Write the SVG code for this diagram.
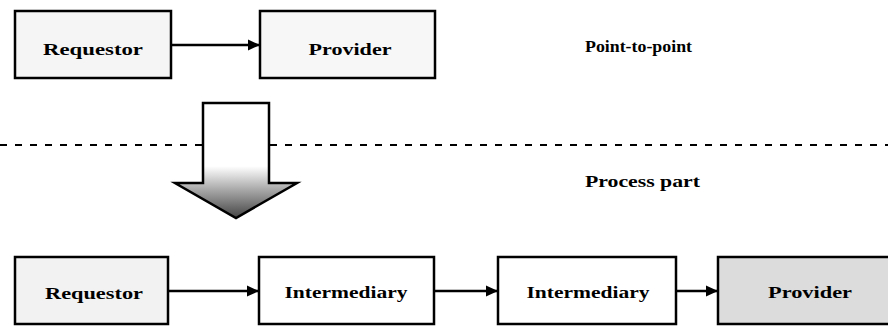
<svg xmlns="http://www.w3.org/2000/svg" width="888" height="326" viewBox="0 0 888 326">
<style>
.box{stroke:#000;stroke-width:2.5}
.lbl{font-family:"Liberation Serif",serif;font-weight:bold;font-size:17px;fill:#000;text-anchor:middle}
.note{font-family:"Liberation Serif",serif;font-weight:bold;font-size:16px;fill:#000}
.conn{stroke:#000;stroke-width:2.5;fill:none;marker-end:url(#ah)}
</style>
<defs>
<marker id="ah" markerWidth="12" markerHeight="12" refX="11" refY="6" orient="auto" markerUnits="userSpaceOnUse">
<path d="M0,0.5 L12,6 L0,11.5 z" fill="#000"/>
</marker>
<linearGradient id="shade" x1="0" y1="0" x2="0" y2="1">
<stop offset="0" stop-color="#fff"/>
<stop offset="0.55" stop-color="#fff"/>
<stop offset="0.75" stop-color="#aaa"/>
<stop offset="1" stop-color="#444"/>
</linearGradient>
</defs>
<rect width="888" height="326" fill="#fff"/>
<line x1="0" y1="145" x2="888" y2="145" stroke="#000" stroke-width="2" stroke-dasharray="7,8"/>
<g id="big-arrow">
<polygon points="203,103 269,103 269,183 297,183 236,218 175,183 203,183" fill="url(#shade)" stroke="#000" stroke-width="2.5"/>
</g>
<g id="requestor-top">
<rect class="box" x="15" y="11" width="156" height="67" fill="#f5f5f5"/>
<text class="lbl" x="93" y="55" textLength="100" lengthAdjust="spacingAndGlyphs">Requestor</text>
</g>
<g id="provider-top">
<rect class="box" x="260" y="11" width="175" height="67" fill="#f7f7f7"/>
<text class="lbl" x="350" y="55" textLength="83" lengthAdjust="spacingAndGlyphs">Provider</text>
</g>
<g id="label-p2p">
<text class="note" x="585" y="52" textLength="107" lengthAdjust="spacingAndGlyphs">Point-to-point</text>
</g>
<g id="label-process">
<text class="note" x="585" y="187" textLength="115" lengthAdjust="spacingAndGlyphs">Process part</text>
</g>
<g id="requestor-bottom">
<rect class="box" x="15" y="257" width="153" height="67" fill="#f2f2f2"/>
<text class="lbl" x="94" y="299" textLength="98" lengthAdjust="spacingAndGlyphs">Requestor</text>
</g>
<g id="intermediary-1">
<rect class="box" x="259" y="257" width="175" height="67" fill="#fff"/>
<text class="lbl" x="346" y="298" textLength="123" lengthAdjust="spacingAndGlyphs">Intermediary</text>
</g>
<g id="intermediary-2">
<rect class="box" x="498" y="257" width="178" height="67" fill="#fff"/>
<text class="lbl" x="588" y="298" textLength="123" lengthAdjust="spacingAndGlyphs">Intermediary</text>
</g>
<g id="provider-bottom">
<rect class="box" x="718" y="257" width="175" height="67" fill="#dcdcdc"/>
<text class="lbl" x="810" y="298" textLength="84" lengthAdjust="spacingAndGlyphs">Provider</text>
</g>
<g id="connectors">
<line class="conn" x1="171" y1="45" x2="259" y2="45"/>
<line class="conn" x1="168" y1="291" x2="258" y2="291"/>
<line class="conn" x1="434" y1="291" x2="497" y2="291"/>
<line class="conn" x1="676" y1="291" x2="717" y2="291"/>
</g>
</svg>
